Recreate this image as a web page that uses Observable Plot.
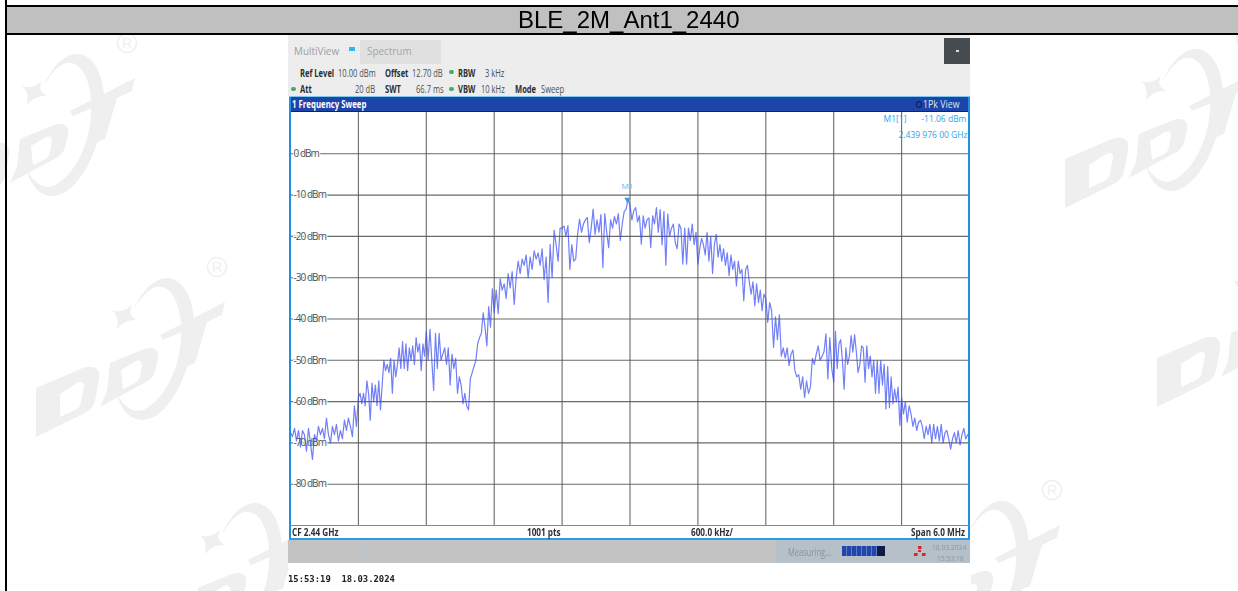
<!DOCTYPE html>
<html><head><meta charset="utf-8">
<script src="https://cdn.jsdelivr.net/npm/d3@7"></script>
<script src="https://cdn.jsdelivr.net/npm/@observablehq/plot@0.6"></script>
<style>
html,body{margin:0;padding:0;background:#fff;overflow:hidden}
#page{position:relative;width:1238px;height:591px;overflow:hidden;font-family:"Open Sans","Liberation Sans",sans-serif}
.abs{position:absolute}
.t{position:absolute;white-space:nowrap;font-size:10.5px;line-height:12px;color:#4a4f55;transform:scaleX(.72);transform-origin:left center}
.t.b{font-weight:700;color:#2b2f33}
.t.w{transform:scaleX(.78)}
.dot{position:absolute;width:5px;height:4px;border-radius:2px;background:#3fae6a}
#shot{position:absolute;left:0;top:0;width:1238px;height:591px;filter:blur(.45px)}
#chart{position:absolute;left:290px;top:112px}
.ylab text{letter-spacing:-.95px}
</style></head><body>
<div id="page">
<svg class="abs" style="left:0;top:0" width="1238" height="591">
 <defs><g id="logo" fill="#efefef">
  <path fill-rule="evenodd" d="M-181 121L-134 101Q-116 96-118 112L-122 134Q-124 142-134 147L-181 170ZM-157 127L-157 150L-142 143Q-137 141-136 135L-133 119Q-133 113-140 116Z"/>
  <path fill-rule="evenodd" d="M-107 96L-73 82Q-57 78-59 92L-62 104Q-64 112-73 116L-117 140L-110 124ZM-96 103L-94 122L-82 116Q-78 114-77 109L-75 98Q-75 92-81 94Z"/>
  <path d="M-57 68L8 35L5 48L-10 55L-22 96L-39 103L-28 62L-54 73Z"/>
  <path d="M-105 43Q-95 47-85 38Q-90 48-80 53Q-92 52-100 62Q-97 50-105 43Z"/>
  <path d="M-84 44C-74 22-62 10-48 11C-28 14-20 45-24 72C-28 110-50 152-74 153C-88 153-96 142-100 128C-92 140-84 146-74 143C-55 135-38 105-36 72C-34 45-42 22-56 20C-66 18-76 30-84 44Z"/>
  <circle r="9.5" fill="none" stroke="#efefef" stroke-width="1.6"/><text y="5" text-anchor="middle" font-size="14" font-family="Liberation Sans" fill="#efefef">R</text>
 </g></defs>
 <use href="#logo" x="127" y="43"/>
 <use href="#logo" x="217" y="267"/>
 <use href="#logo" x="305" y="492"/>
 <use href="#logo" x="1246" y="38"/>
 <use href="#logo" x="1338" y="237"/>
 <use href="#logo" x="1052" y="490"/>
</svg>

<div class="abs" style="left:5px;top:0;width:2.3px;height:591px;background:#000"></div>
<div class="abs" style="left:5px;top:5px;width:1233px;height:2px;background:#000"></div>
<div class="abs" style="left:7.3px;top:7px;width:1231px;height:26px;background:#c0c0c0"></div>
<div class="abs" style="left:5px;top:33px;width:1233px;height:1.7px;background:#000"></div>
<div class="abs" style="left:518px;top:6px;white-space:nowrap;font:24px/28px 'Liberation Sans',Arial,sans-serif;color:#000;filter:blur(.3px)">BLE_2M_Ant1_2440</div>

<div class="abs" style="left:288px;top:35px;width:683px;height:556px;background:#fff"></div>

<div id="shot">
<div class="abs" style="left:288px;top:35px;width:682px;height:61px;background:#ededed"></div>
<div class="abs" style="left:360px;top:40px;width:81px;height:24px;background:#e0e0e0"></div>
<div class="t" style="left:294px;top:45px;font-size:11.5px;color:#9a9da0;transform:scaleX(.86)">MultiView</div>
<div class="abs" style="left:349px;top:47px;width:6px;height:4px;background:#35b4f0"></div>
<div class="t" style="left:367px;top:45px;font-size:11.5px;color:#a3a6a9;transform:scaleX(.86)">Spectrum</div>
<div class="abs" style="left:944px;top:38px;width:26px;height:26px;background:#464c4f"></div>
<div class="abs" style="left:956px;top:50px;width:3px;height:2px;background:#ddd"></div>

<div class="t b" style="left:300px;top:67px">Ref Level</div>
<div class="t" style="left:338px;top:67px">10.00 dBm</div>
<div class="t b" style="left:385px;top:67px">Offset</div>
<div class="t" style="left:412px;top:67px">12.70 dB</div>
<div class="dot" style="left:449px;top:70px"></div>
<div class="t b" style="left:458px;top:67px">RBW</div>
<div class="t" style="left:485px;top:67px">3 kHz</div>

<div class="dot" style="left:291px;top:87px"></div>
<div class="t b" style="left:300px;top:83px">Att</div>
<div class="t" style="left:355px;top:83px">20 dB</div>
<div class="t b" style="left:385px;top:83px">SWT</div>
<div class="t" style="left:416px;top:83px">66.7 ms</div>
<div class="dot" style="left:449px;top:87px"></div>
<div class="t b" style="left:458px;top:83px">VBW</div>
<div class="t" style="left:481px;top:83px">10 kHz</div>
<div class="t b" style="left:515px;top:83px">Mode</div>
<div class="t" style="left:541px;top:83px">Sweep</div>

<div class="abs" style="left:289px;top:96px;width:681px;height:1px;background:#7cc6f2"></div>
<div class="abs" style="left:289px;top:97px;width:681px;height:14px;background:#1d44a8"></div>
<div class="abs" style="left:289px;top:111px;width:681px;height:1px;background:#16244f"></div>
<div class="t b" style="left:292px;top:98px;color:#fff;font-size:11px;transform:scaleX(.71)">1 Frequency Sweep</div>
<div class="abs" style="left:916px;top:101px;width:4px;height:5px;border:1px solid #0a1550;border-radius:3px"></div>
<div class="t" style="left:923px;top:98px;color:#dfe6f5;font-size:11px;transform:scaleX(.8)">1Pk View</div>

<div id="chart"></div>

<div class="abs" style="left:289px;top:97px;width:2px;height:442px;background:#1f8fe0"></div>
<div class="abs" style="left:968px;top:97px;width:2px;height:442px;background:#1f8fe0"></div>
<div class="abs" style="left:289px;top:538px;width:681px;height:1.6px;background:#2b9be6"></div>
<div class="abs" style="left:290px;top:525px;width:679px;height:1px;background:#888"></div>

<div class="t b w" style="left:292px;top:526px">CF 2.44 GHz</div>
<div class="t b w" style="left:527px;top:526px">1001 pts</div>
<div class="t b w" style="left:691px;top:526px">600.0 kHz/</div>
<div class="t b w" style="left:911px;top:526px">Span 6.0 MHz</div>

<div class="abs" style="left:288px;top:540px;width:488px;height:23px;background:#c3c3c3"></div>
<div class="abs" style="left:776px;top:540px;width:194px;height:23px;background:#b6c0c9"></div>
<div class="abs" style="left:365px;top:540px;width:2px;height:23px;background:#bcc6cf"></div>
<div class="t" style="left:788px;top:546px;color:#87929b">Measuring...</div>
<div class="abs" style="left:842px;top:546px;width:43px;height:10px;background:repeating-linear-gradient(90deg,#1f46a8 0 4px,#5d7bc4 4px 5px)"></div>
<div class="abs" style="left:877px;top:546px;width:8px;height:10px;background:#101a4a"></div>
<svg class="abs" style="left:914px;top:546px" width="12" height="11"><g fill="#e0222a"><rect x="4" y="0" width="3.5" height="3"/><rect x="0" y="7" width="3.5" height="3"/><rect x="8" y="7" width="3.5" height="3"/><rect x="4" y="4" width="3" height="2"/></g></svg>
<div class="t" style="left:932px;top:541px;font-size:7.5px;color:#8b959e;transform:scaleX(.9)">18.03.2024</div>
<div class="t" style="left:937px;top:552px;font-size:7.5px;color:#8b959e;transform:scaleX(.9)">15:53:18</div>
<div class="abs" style="left:288px;top:573px;white-space:nowrap;font:bold 8.9px/12px 'DejaVu Sans Mono','Liberation Mono',monospace;color:#222">15:53:19&nbsp;&nbsp;18.03.2024</div>
</div>
</div>

<script>
// One list of trace levels (dBm) per 600 kHz graticule division left to right
const div1 = [-67.5,-68.5,-66.5,-69.5,-67,-71,-67,-68,-72,-66.5,-70,-74,-68,-69.5,-66,-68,-66.5,-69,-64,-68,-70,-66,-68,-65.5,-69.5,-67,-69,-64.5,-67,-64,-66,-68.5,-61,-66];
const div2 = [-59,-58,-60.5,-58,-61,-55,-58,-64.5,-55.5,-60,-56,-61,-55,-62,-56,-50,-52.5,-51,-53,-49.5,-58,-50,-54,-51,-47,-52,-45.5,-52,-46,-52.5,-47,-50,-46.5,-51,-44.5,-48,-46,-52.5,-46,-49];
const div3 = [-43,-50,-42.5,-50,-57.3,-43.5,-52,-43.5,-50,-48.5,-47,-51,-47,-56,-48.5,-52,-49.5,-58,-54,-56,-60.5,-58,-61,-62,-54.5,-53,-51.5,-50,-46,-44.5,-43.5,-38.5,-42,-46.5,-37,-42,-32.7];
const div4 = [-38.4,-33,-38.7,-30.3,-33,-31.5,-35,-29,-32.5,-28.5,-36.5,-30,-26,-29,-25.5,-27,-24.5,-30,-25,-28,-23.5,-25.5,-24,-27,-23,-30.5,-25,-36,-22,-30,-18.5,-22,-26,-18];
const div5 = [-18,-17.5,-20,-17.4,-28,-22,-26,-25.5,-19.4,-15.8,-19,-17,-16,-15.4,-21.5,-18,-13.4,-19.5,-16,-19,-14.7,-27.5,-14.5,-19,-22.7,-16,-18,-15.2,-17,-14.5,-21,-17,-14,-13.4,-11.06];
const div6 = [-12.5,-16,-13.8,-13,-16.5,-15,-21.9,-15,-18,-16,-15.5,-22.7,-15,-17,-13,-19,-13.5,-22,-14,-27,-14.6,-20,-18,-17,-21.5,-23,-17,-18,-26.7,-18,-26.7,-18,-21,-17,-22,-19];
const div7 = [-26.7,-23,-20.5,-22,-24.5,-19,-26,-20,-29,-22,-19.5,-25,-22,-26,-23,-27,-24,-29.5,-24.5,-28,-26,-32,-26,-29,-28,-35.6,-28,-27,-31,-34,-31,-36.8,-31.5,-36,-33,-38,-34];
const div8 = [-35,-40.8,-36,-38,-46.9,-39.5,-45,-39,-49,-47,-49.5,-47,-51.3,-48.5,-47.5,-52.5,-54,-53.5,-57,-54,-59,-55,-58,-56.5,-49.5,-51,-48.5,-46.5,-50,-49,-48,-43.6,-54.5,-44.5,-52];
const div9 = [-55.3,-43,-52,-46,-45,-50,-57,-47,-51,-49,-44,-48,-43.8,-48,-53,-51,-46.5,-47,-55.3,-46.5,-52,-49,-54,-50,-58,-50,-58,-50,-56,-51,-61.8,-51.5,-61.5,-54,-60.5,-57,-60,-56.5,-65.8];
const div10 = [-59,-63,-60,-65,-61,-63,-66,-64,-67,-65,-64.5,-66,-69,-66,-68,-65.5,-70,-65.5,-69,-66,-69.5,-65.5,-70,-67.5,-67,-69,-71.5,-69,-67.5,-70,-67,-70.5,-68,-66.5,-69,-68];
const divisions = [div1,div2,div3,div4,div5,div6,div7,div8,div9,div10];
const levelTicks = [0,-10,-20,-30,-40,-50,-60,-70,-80];
const freqTicks = [-2.4,-1.8,-1.2,-0.6,0,0.6,1.2,1.8,2.4];
const marker = {offset:-0.024, level:-11.06, name:"M1"};
const divWidth = 0.6;

const trace = divisions.flatMap((vals,d)=>vals.map((level,j)=>({
  offset:-3+d*divWidth+j/vals.length*divWidth, level})));
trace.push({offset:3,level:-68.5});

const grid = "#5a5a5a";
const cyan = "#2ba3ea";
const font = "'Open Sans',sans-serif";
const plot = Plot.plot({
  width:679, height:413, margin:0,
  style:{background:"#fff",overflow:"visible"},
  x:{domain:[-3,3],axis:null},
  y:{domain:[-90,10],axis:null},
  marks:[
    Plot.ruleX(freqTicks,{stroke:grid,strokeWidth:1.1,strokeOpacity:.9}),
    Plot.ruleY(levelTicks,{stroke:grid,strokeWidth:1.1,strokeOpacity:.9}),
    Plot.text(levelTicks,{
      x:()=>-3, y:d=>d, text:d=>`${d} dBm`, textAnchor:"start", dx:3,
      fontSize:10, fill:"#4a4f55", fontFamily:font, className:"ylab",
      stroke:"#fff", strokeWidth:2, paintOrder:"stroke"
    }),
    Plot.line(trace,{x:"offset",y:"level",stroke:"#3a4df5",strokeWidth:1.2,strokeOpacity:.72}),
    Plot.dot([marker],{x:"offset",y:"level",symbol:"triangle",r:2.2,fill:cyan,rotate:180}),
    Plot.text([marker],{x:"offset",y:"level",text:"name",dy:-13,fontSize:8,fill:"#55b9ee",fontFamily:font}),
    Plot.text(["M1[1]"],{frameAnchor:"top-right",dx:-63,dy:3,fontSize:8.5,fill:cyan,fontFamily:font}),
    Plot.text(["-11.06 dBm"],{frameAnchor:"top-right",dx:-3,dy:3,fontSize:8.5,fill:cyan,fontFamily:font}),
    Plot.text(["2.439 976 00 GHz"],{frameAnchor:"top-right",dx:-2,dy:19,fontSize:8.5,fill:cyan,fontFamily:font})
  ]
});
document.getElementById("chart").appendChild(plot);
</script>
</body></html>
